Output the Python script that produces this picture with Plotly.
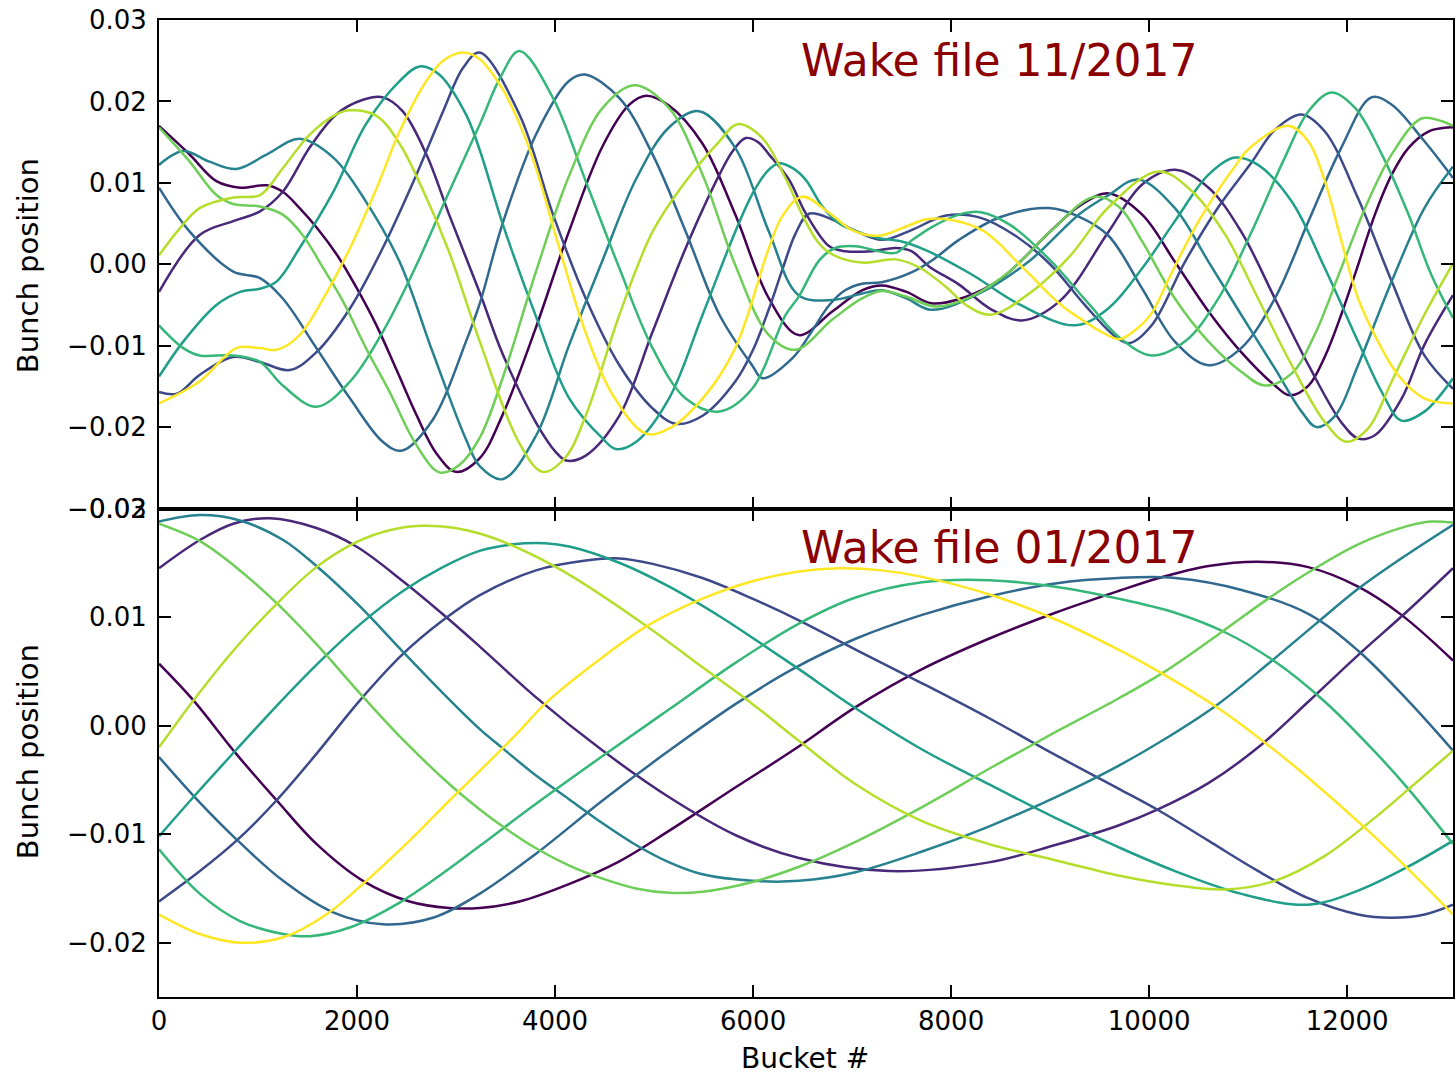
import plotly.graph_objects as go
from plotly.subplots import make_subplots

# ---------------- colours (viridis, 10 turns) ----------------
colors = ["#440154", "#482878", "#3e4989", "#31688e", "#26828e",
          "#1f9e89", "#35b779", "#6ece58", "#b5de2b", "#fde725"]

# ---------------- top panel: wake file 11/2017 ----------------
top_c0_x = [0, 300, 580, 820, 1090, 1250, 1420, 1600, 1800, 2000, 2200, 2400, 2600, 2800, 3000, 3240, 3470, 3800, 4140, 4480, 4750, 4920, 5150, 5490, 5820, 6160, 6460, 6800, 7100, 7300, 7550, 7800, 8100, 8500, 9000, 9300, 9590, 9930, 10260, 10600, 10930, 11270, 11420, 11610, 11780, 11940, 12110, 12280, 12450, 12620, 12820, 13020, 13069]
top_c0_y = [0.0170, 0.0136, 0.0102, 0.0094, 0.0097, 0.0089, 0.0069, 0.0044, 0.0011, -0.0030, -0.0076, -0.0130, -0.0185, -0.0232, -0.0255, -0.0238, -0.0185, -0.0080, 0.0040, 0.0145, 0.0196, 0.0207, 0.0195, 0.0148, 0.0061, -0.0042, -0.0087, -0.0058, -0.0032, -0.0026, -0.0034, -0.0048, -0.0042, -0.0018, 0.0040, 0.0072, 0.0087, 0.0061, 0.0003, -0.0058, -0.0108, -0.0149, -0.0161, -0.0149, -0.0112, -0.0062, -0.0001, 0.0061, 0.0110, 0.0143, 0.0163, 0.0168, 0.0168]

top_c1_x = [0, 410, 750, 1020, 1250, 1520, 1790, 2060, 2262, 2460, 2700, 2930, 3240, 3470, 3810, 4010, 4111, 4310, 4650, 4985, 5320, 5660, 5800, 5926, 6050, 6160, 6363, 6530, 6770, 6930, 7200, 7440, 7600, 7780, 8080, 8400, 8715, 9100, 9590, 9930, 10262, 10600, 10930, 11270, 11610, 11940, 12110, 12280, 12550, 12780, 13069]
top_c1_y = [-0.0034, 0.0036, 0.0053, 0.0065, 0.0089, 0.0143, 0.0184, 0.0202, 0.0205, 0.0188, 0.0135, 0.0061, -0.0035, -0.0110, -0.0195, -0.0231, -0.0241, -0.0235, -0.0186, -0.0083, 0.0020, 0.0110, 0.0140, 0.0155, 0.0150, 0.0135, 0.0104, 0.0063, 0.0022, 0.0016, 0.0016, 0.0020, 0.0016, -0.0003, -0.0025, -0.0055, -0.0069, -0.0045, 0.0040, 0.0098, 0.0116, 0.0094, 0.0040, -0.0042, -0.0124, -0.0194, -0.0214, -0.0210, -0.0165, -0.0099, -0.0038]

top_c2_x = [0, 180, 410, 750, 1020, 1320, 1590, 1930, 2260, 2600, 2870, 3070, 3237, 3640, 3980, 4310, 4650, 4985, 5220, 5490, 5820, 6000, 6160, 6300, 6430, 6564, 6800, 7050, 7300, 7600, 7950, 8300, 8650, 9000, 9350, 9650, 9800, 10026, 10362, 10698, 11034, 11270, 11539, 11775, 12110, 12450, 12780, 13069]
top_c2_y = [-0.0157, -0.0159, -0.0136, -0.0114, -0.0120, -0.0130, -0.0108, -0.0054, 0.0020, 0.0110, 0.0188, 0.0241, 0.0260, 0.0184, 0.0061, -0.0042, -0.0124, -0.0177, -0.0196, -0.0186, -0.0144, -0.0105, -0.0055, -0.0005, 0.0038, 0.0062, 0.0055, 0.0040, 0.0030, 0.0042, 0.0060, 0.0057, 0.0035, 0.0000, -0.0050, -0.0088, -0.0097, -0.0075, 0.0003, 0.0070, 0.0125, 0.0165, 0.0184, 0.0163, 0.0081, -0.0021, -0.0112, -0.0153]

top_c3_x = [0, 310, 750, 1020, 1250, 1590, 1930, 2260, 2450, 2770, 3100, 3240, 3470, 3810, 4140, 4300, 4650, 4985, 5320, 5660, 5990, 6094, 6400, 6600, 6770, 6930, 7100, 7300, 7600, 7810, 8080, 8500, 8985, 9300, 9590, 9930, 10260, 10600, 10930, 11270, 11610, 11940, 12245, 12450, 12780, 13069]
top_c3_y = [0.0094, 0.0040, -0.0009, -0.0017, -0.0042, -0.0103, -0.0165, -0.0218, -0.0229, -0.0190, -0.0095, -0.0048, 0.0050, 0.0160, 0.0225, 0.0233, 0.0204, 0.0135, 0.0040, -0.0062, -0.0124, -0.0140, -0.0115, -0.0081, -0.0050, -0.0032, -0.0024, -0.0022, -0.0010, 0.0005, 0.0030, 0.0058, 0.0069, 0.0058, 0.0035, -0.0030, -0.0095, -0.0124, -0.0103, -0.0042, 0.0053, 0.0143, 0.0205, 0.0196, 0.0151, 0.0106]

top_c4_x = [0, 245, 510, 780, 1090, 1420, 1760, 2090, 2430, 2770, 3100, 3240, 3470, 3810, 4140, 4480, 4820, 5150, 5455, 5820, 6160, 6460, 6800, 7100, 7300, 7550, 7800, 8300, 8800, 9300, 9590, 9890, 10260, 10600, 10930, 11270, 11540, 11690, 11880, 12110, 12450, 12780, 13069]
top_c4_y = [0.0122, 0.0139, 0.0126, 0.0117, 0.0135, 0.0154, 0.0131, 0.0077, 0.0003, -0.0110, -0.0215, -0.0248, -0.0264, -0.0210, -0.0100, 0.0005, 0.0105, 0.0168, 0.0188, 0.0143, 0.0040, -0.0038, -0.0044, -0.0036, -0.0032, -0.0042, -0.0056, -0.0035, 0.0005, 0.0062, 0.0085, 0.0104, 0.0069, 0.0003, -0.0062, -0.0128, -0.0181, -0.0200, -0.0186, -0.0124, -0.0021, 0.0069, 0.0120]

top_c5_x = [0, 245, 580, 820, 1020, 1190, 1420, 1760, 2090, 2430, 2632, 2830, 3100, 3240, 3470, 3810, 4140, 4480, 4615, 4820, 5150, 5490, 5820, 6000, 6150, 6262, 6400, 6530, 6700, 6870, 7100, 7270, 7500, 7750, 8200, 8700, 9253, 9590, 9930, 10260, 10600, 10867, 11100, 11440, 11775, 12110, 12350, 12547, 12780, 13069]
top_c5_y = [-0.0138, -0.0095, -0.0050, -0.0034, -0.0030, -0.0021, 0.0020, 0.0089, 0.0172, 0.0225, 0.0243, 0.0233, 0.0184, 0.0140, 0.0050, -0.0065, -0.0164, -0.0214, -0.0227, -0.0218, -0.0165, -0.0062, 0.0040, 0.0088, 0.0115, 0.0124, 0.0118, 0.0104, 0.0071, 0.0050, 0.0038, 0.0032, 0.0028, 0.0017, -0.0012, -0.0050, -0.0075, -0.0054, -0.0005, 0.0053, 0.0110, 0.0131, 0.0122, 0.0077, -0.0005, -0.0095, -0.0157, -0.0192, -0.0181, -0.0140]

top_c6_x = [0, 245, 410, 750, 1020, 1250, 1590, 1930, 2260, 2600, 2930, 3240, 3450, 3640, 3980, 4310, 4650, 4985, 5320, 5657, 5990, 6330, 6460, 6670, 6830, 7035, 7270, 7440, 7610, 7810, 8080, 8300, 8600, 9000, 9400, 9700, 10027, 10360, 10700, 11035, 11370, 11610, 11842, 12080, 12350, 12620, 12850, 13069]
top_c6_y = [-0.0075, -0.0103, -0.0112, -0.0112, -0.0120, -0.0149, -0.0175, -0.0144, -0.0083, -0.0001, 0.0089, 0.0172, 0.0230, 0.0262, 0.0204, 0.0102, -0.0005, -0.0103, -0.0165, -0.0181, -0.0153, -0.0062, -0.0040, 0.0005, 0.0020, 0.0022, 0.0016, 0.0014, 0.0030, 0.0046, 0.0061, 0.0064, 0.0048, 0.0005, -0.0050, -0.0090, -0.0112, -0.0095, -0.0042, 0.0040, 0.0131, 0.0188, 0.0211, 0.0192, 0.0135, 0.0061, -0.0013, -0.0066]

top_c7_x = [0, 310, 580, 750, 1020, 1250, 1450, 1660, 1860, 2090, 2330, 2560, 2770, 2850, 3030, 3240, 3470, 3810, 4140, 4480, 4800, 5150, 5490, 5820, 6160, 6430, 6800, 7100, 7300, 7550, 7850, 8200, 8600, 9000, 9450, 9700, 9930, 10260, 10600, 10930, 11170, 11440, 11670, 11940, 12210, 12450, 12750, 12950, 13069]
top_c7_y = [0.0168, 0.0126, 0.0085, 0.0074, 0.0071, 0.0061, 0.0036, -0.0005, -0.0046, -0.0103, -0.0157, -0.0214, -0.0251, -0.0256, -0.0247, -0.0213, -0.0140, -0.0008, 0.0108, 0.0192, 0.0220, 0.0192, 0.0110, -0.0001, -0.0087, -0.0105, -0.0068, -0.0042, -0.0033, -0.0040, -0.0052, -0.0040, -0.0008, 0.0040, 0.0083, 0.0070, 0.0028, -0.0042, -0.0095, -0.0132, -0.0149, -0.0134, -0.0087, -0.0005, 0.0077, 0.0135, 0.0179, 0.0176, 0.0170]

top_c8_x = [0, 210, 410, 750, 1020, 1250, 1520, 1790, 1930, 2200, 2430, 2670, 2930, 3240, 3640, 3875, 4100, 4310, 4650, 4985, 5320, 5660, 5842, 6094, 6330, 6500, 6650, 6800, 7100, 7440, 7680, 7950, 8150, 8400, 8800, 9200, 9590, 10094, 10430, 10770, 11100, 11440, 11775, 11993, 12210, 12450, 12780, 13069]
top_c8_y = [0.0011, 0.0044, 0.0069, 0.0082, 0.0085, 0.0118, 0.0159, 0.0184, 0.0189, 0.0182, 0.0148, 0.0090, 0.0015, -0.0095, -0.0220, -0.0255, -0.0238, -0.0186, -0.0062, 0.0040, 0.0102, 0.0151, 0.0172, 0.0155, 0.0105, 0.0060, 0.0028, 0.0012, 0.0002, 0.0006, -0.0004, -0.0028, -0.0050, -0.0062, -0.0035, 0.0010, 0.0070, 0.0114, 0.0090, 0.0036, -0.0042, -0.0124, -0.0194, -0.0218, -0.0202, -0.0144, -0.0062, 0.0001]

top_c9_x = [0, 410, 780, 1020, 1190, 1420, 1660, 1930, 2200, 2430, 2700, 2870, 3069, 3237, 3470, 3650, 3808, 4043, 4312, 4580, 4917, 5150, 5490, 5820, 6160, 6300, 6497, 6770, 7000, 7270, 7540, 7740, 7976, 8312, 8480, 8648, 8816, 8984, 9152, 9320, 9488, 9700, 9858, 10026, 10194, 10362, 10530, 10698, 10866, 11000, 11405, 11607, 11775, 11943, 12111, 12279, 12514, 12783, 13052, 13069]
top_c9_y = [-0.0171, -0.0144, -0.0103, -0.0103, -0.0105, -0.0087, -0.0042, 0.0020, 0.0094, 0.0163, 0.0225, 0.0250, 0.0260, 0.0252, 0.0215, 0.0170, 0.0118, 0.0020, -0.0085, -0.0160, -0.0208, -0.0202, -0.0165, -0.0103, 0.0020, 0.0060, 0.0083, 0.0063, 0.0042, 0.0035, 0.0046, 0.0055, 0.0055, 0.0042, 0.0026, 0.0005, -0.0015, -0.0036, -0.0054, -0.0068, -0.0081, -0.0092, -0.0081, -0.0060, -0.0019, 0.0022, 0.0059, 0.0091, 0.0120, 0.0141, 0.0170, 0.0151, 0.0102, 0.0028, -0.0042, -0.0087, -0.0136, -0.0165, -0.0171, -0.0171]

# ---------------- bottom panel: wake file 01/2017 ----------------
bot_c0_x = [0, 350, 780, 1190, 1590, 2060, 2530, 2930, 3240, 3640, 4140, 4650, 5150, 5820, 6400, 7035, 7707, 8380, 9052, 9690, 10100, 10600, 11102, 11607, 12111, 12548, 13069]
bot_c0_y = [0.0057, 0.0023, -0.0026, -0.0069, -0.0109, -0.0143, -0.0162, -0.0168, -0.0168, -0.0162, -0.0146, -0.0125, -0.0097, -0.0057, -0.0023, 0.0017, 0.0052, 0.0080, 0.0104, 0.0124, 0.0136, 0.0147, 0.0151, 0.0146, 0.0128, 0.0102, 0.0060]

bot_c1_x = [0, 413, 750, 1120, 1590, 1993, 2464, 2900, 3237, 3808, 4480, 5153, 5825, 6463, 7371, 8380, 9052, 9690, 10094, 10598, 11102, 11607, 12111, 12615, 13069]
bot_c1_y = [0.0145, 0.0171, 0.0186, 0.0191, 0.0182, 0.0165, 0.0133, 0.0100, 0.0073, 0.0026, -0.0023, -0.0066, -0.0101, -0.0122, -0.0134, -0.0126, -0.0110, -0.0092, -0.0077, -0.0053, -0.0020, 0.0022, 0.0065, 0.0106, 0.0145]

bot_c2_x = [0, 413, 783, 1186, 1590, 2027, 2464, 2867, 3237, 3808, 4312, 4648, 4985, 5489, 5993, 6463, 7035, 7707, 8380, 9052, 9690, 10094, 10598, 11102, 11607, 12111, 12447, 12783, 13069]
bot_c2_y = [-0.0162, -0.0134, -0.0106, -0.0069, -0.0026, 0.0023, 0.0066, 0.0097, 0.0120, 0.0143, 0.0152, 0.0154, 0.0149, 0.0136, 0.0117, 0.0097, 0.0070, 0.0039, 0.0007, -0.0027, -0.0058, -0.0078, -0.0106, -0.0134, -0.0159, -0.0174, -0.0177, -0.0174, -0.0165]

bot_c3_x = [0, 413, 750, 1254, 1758, 2262, 2766, 3237, 3808, 4480, 5153, 5825, 6400, 7035, 7707, 8380, 9052, 9690, 10262, 10934, 11607, 12111, 12615, 13069]
bot_c3_y = [-0.0029, -0.0071, -0.0102, -0.0143, -0.0172, -0.0183, -0.0177, -0.0155, -0.0118, -0.0069, -0.0023, 0.0020, 0.0052, 0.0080, 0.0102, 0.0119, 0.0131, 0.0136, 0.0136, 0.0125, 0.0103, 0.0069, 0.0023, -0.0023]

bot_c4_x = [0, 413, 817, 1254, 1590, 2027, 2464, 2867, 3237, 3472, 3808, 4144, 4480, 4817, 5153, 5489, 5993, 6463, 7035, 7707, 8380, 9052, 9690, 10200, 10699, 11203, 11674, 12111, 12514, 13069]
bot_c4_y = [0.0188, 0.0194, 0.0189, 0.0171, 0.0147, 0.0110, 0.0068, 0.0030, -0.0003, -0.0021, -0.0046, -0.0068, -0.0090, -0.0110, -0.0126, -0.0137, -0.0143, -0.0143, -0.0135, -0.0116, -0.0093, -0.0066, -0.0037, -0.0010, 0.0020, 0.0057, 0.0093, 0.0126, 0.0152, 0.0185]

bot_c5_x = [0, 346, 783, 1186, 1590, 2027, 2464, 2867, 3237, 3573, 3900, 4144, 4648, 5153, 5657, 5993, 6463, 7035, 7707, 8380, 9052, 9690, 10262, 10934, 11607, 12111, 12615, 13069]
bot_c5_y = [-0.0102, -0.0066, -0.0022, 0.0018, 0.0056, 0.0093, 0.0124, 0.0146, 0.0161, 0.0167, 0.0168, 0.0165, 0.0150, 0.0128, 0.0101, 0.0081, 0.0052, 0.0016, -0.0022, -0.0054, -0.0085, -0.0112, -0.0134, -0.0155, -0.0165, -0.0152, -0.0130, -0.0106]

bot_c6_x = [0, 413, 817, 1254, 1523, 1926, 2430, 2867, 3237, 3808, 4480, 5153, 5825, 6463, 7035, 7707, 8380, 9052, 9690, 10262, 10766, 11270, 11775, 12279, 12615, 13069]
bot_c6_y = [-0.0114, -0.0155, -0.0180, -0.0192, -0.0194, -0.0186, -0.0163, -0.0136, -0.0111, -0.0072, -0.0028, 0.0015, 0.0058, 0.0094, 0.0118, 0.0132, 0.0134, 0.0128, 0.0117, 0.0104, 0.0086, 0.0059, 0.0022, -0.0024, -0.0058, -0.0109]

bot_c7_x = [0, 413, 750, 1186, 1590, 2027, 2464, 2934, 3237, 3472, 3808, 4144, 4480, 4817, 5153, 5489, 5993, 6463, 7035, 7707, 8380, 9052, 9690, 10161, 10699, 11203, 11607, 12111, 12615, 12850, 13069]
bot_c7_y = [0.0186, 0.0170, 0.0148, 0.0113, 0.0075, 0.0030, -0.0013, -0.0054, -0.0077, -0.0093, -0.0113, -0.0129, -0.0141, -0.0150, -0.0154, -0.0153, -0.0144, -0.0130, -0.0107, -0.0075, -0.0040, -0.0006, 0.0025, 0.0050, 0.0084, 0.0117, 0.0141, 0.0167, 0.0184, 0.0188, 0.0187]

bot_c8_x = [0, 346, 750, 1186, 1590, 1993, 2329, 2699, 3237, 4010, 4951, 5455, 5993, 6463, 7035, 7707, 8380, 9052, 9690, 10262, 10766, 11270, 11775, 12279, 12615, 13069]
bot_c8_y = [-0.0020, 0.0023, 0.0069, 0.0112, 0.0146, 0.0169, 0.0180, 0.0184, 0.0177, 0.0146, 0.0090, 0.0056, 0.0020, -0.0014, -0.0054, -0.0088, -0.0109, -0.0124, -0.0138, -0.0147, -0.0151, -0.0143, -0.0120, -0.0085, -0.0059, -0.0023]

bot_c9_x = [0, 413, 817, 1254, 1690, 2094, 2531, 2934, 3237, 3640, 3909, 4480, 4951, 5489, 5993, 6463, 6867, 7300, 7707, 8380, 9052, 9690, 10094, 10699, 11203, 11607, 12178, 12615, 13069]
bot_c9_y = [-0.0174, -0.0192, -0.0200, -0.0195, -0.0174, -0.0143, -0.0106, -0.0069, -0.0042, -0.0005, 0.0021, 0.0063, 0.0093, 0.0117, 0.0133, 0.0142, 0.0145, 0.0143, 0.0137, 0.0121, 0.0098, 0.0070, 0.0050, 0.0016, -0.0018, -0.0048, -0.0094, -0.0132, -0.0174]

# ---------------- axis ticks ----------------
x_ticks = [0, 2000, 4000, 6000, 8000, 10000, 12000]
x_ticktext = ["0", "2000", "4000", "6000", "8000", "10000", "12000"]
top_yticks = [-0.03, -0.02, -0.01, 0.0, 0.01, 0.02, 0.03]
top_yticktext = ["\u22120.03", "\u22120.02", "\u22120.01", "0.00", "0.01", "0.02", "0.03"]
bot_yticks = [-0.02, -0.01, 0.0, 0.01, 0.02]
bot_yticktext = ["\u22120.02", "\u22120.01", "0.00", "0.01", "0.02"]

top_series = [(top_c0_x, top_c0_y), (top_c1_x, top_c1_y), (top_c2_x, top_c2_y), (top_c3_x, top_c3_y),
              (top_c4_x, top_c4_y), (top_c5_x, top_c5_y), (top_c6_x, top_c6_y), (top_c7_x, top_c7_y),
              (top_c8_x, top_c8_y), (top_c9_x, top_c9_y)]
bot_series = [(bot_c0_x, bot_c0_y), (bot_c1_x, bot_c1_y), (bot_c2_x, bot_c2_y), (bot_c3_x, bot_c3_y),
              (bot_c4_x, bot_c4_y), (bot_c5_x, bot_c5_y), (bot_c6_x, bot_c6_y), (bot_c7_x, bot_c7_y),
              (bot_c8_x, bot_c8_y), (bot_c9_x, bot_c9_y)]

fig = make_subplots(rows=2, cols=1, shared_xaxes=True, vertical_spacing=0)

for i, (xs, ys) in enumerate(top_series):
    fig.add_trace(go.Scatter(x=xs, y=ys, mode="lines", line=dict(color=colors[i], width=2.5, shape="spline", smoothing=1.0),
                             showlegend=False, hoverinfo="skip"), row=1, col=1)
for i, (xs, ys) in enumerate(bot_series):
    fig.add_trace(go.Scatter(x=xs, y=ys, mode="lines", line=dict(color=colors[i], width=2.5, shape="spline", smoothing=1.0),
                             showlegend=False, hoverinfo="skip"), row=2, col=1)

FONT = "DejaVu Sans"
axis_common = dict(showline=True, linecolor="black", linewidth=2, mirror="ticks", ticks="inside",
                   ticklen=12, tickwidth=1.5, tickcolor="black", showgrid=False, zeroline=False,
                   tickfont=dict(family=FONT, size=26, color="black"))

fig.update_xaxes(range=[0, 13069], tickvals=x_ticks, ticktext=x_ticktext, **axis_common)
fig.update_xaxes(showticklabels=False, row=1, col=1)
fig.update_xaxes(ticklabelstandoff=0, row=2, col=1)
fig.update_yaxes(range=[-0.03, 0.03], tickvals=top_yticks, ticktext=top_yticktext, ticklabelstandoff=5,
                 domain=[0.5, 1.0], row=1, col=1, **axis_common)
fig.update_yaxes(range=[-0.025, 0.02], tickvals=bot_yticks, ticktext=bot_yticktext, ticklabelstandoff=5,
                 domain=[0.0, 0.5], row=2, col=1, **axis_common)

annotations = [
    dict(text="Wake file 11/2017", x=(800 - 159) / 1296, y=(997 - 60) / 977, xref="paper", yref="paper",
         xanchor="left", yanchor="middle", showarrow=False, font=dict(family=FONT, size=44, color="#8b0000")),
    dict(text="Wake file 01/2017", x=(800 - 159) / 1296, y=(997 - 547) / 977, xref="paper", yref="paper",
         xanchor="left", yanchor="middle", showarrow=False, font=dict(family=FONT, size=44, color="#8b0000")),
    dict(text="Bunch position", x=(28 - 159) / 1296, y=(997 - 266) / 977, xref="paper", yref="paper",
         xanchor="center", yanchor="middle", textangle=-90, showarrow=False, font=dict(family=FONT, size=29, color="black")),
    dict(text="Bunch position", x=(28 - 159) / 1296, y=(997 - 752) / 977, xref="paper", yref="paper",
         xanchor="center", yanchor="middle", textangle=-90, showarrow=False, font=dict(family=FONT, size=29, color="black")),
    dict(text="Bucket #", x=(806 - 159) / 1296, y=(997 - 1058) / 977, xref="paper", yref="paper",
         xanchor="center", yanchor="middle", showarrow=False, font=dict(family=FONT, size=28, color="black")),
]

fig.update_layout(width=1456, height=1076, margin=dict(l=159, r=1, t=20, b=79, pad=0),
                  plot_bgcolor="white", paper_bgcolor="white", annotations=annotations,
                  font=dict(family=FONT, size=26, color="black"))

fig.write_html("out.html")
